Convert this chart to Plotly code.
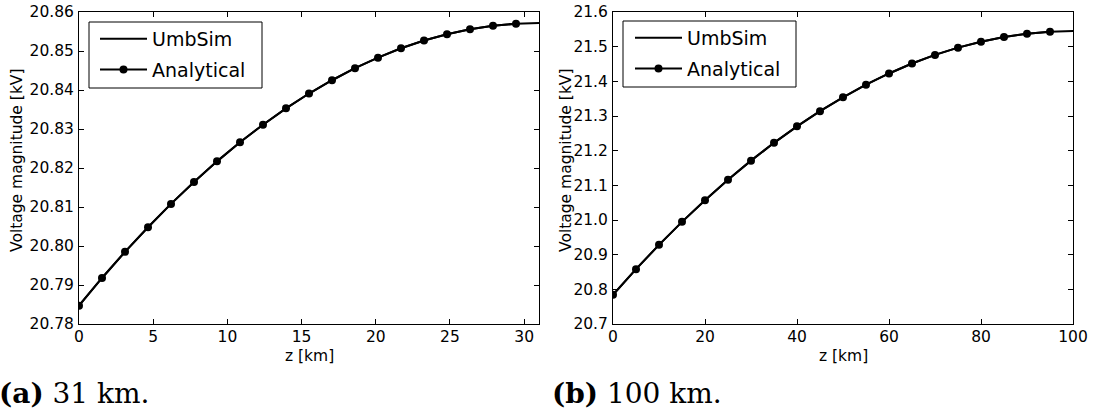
import plotly.graph_objects as go

# Voltage magnitude along the line for the 31 km case
z_31 = [0.0, 1.55, 3.1, 4.65, 6.2, 7.75, 9.3, 10.85, 12.4, 13.95, 15.5,
        17.05, 18.6, 20.15, 21.7, 23.25, 24.8, 26.35, 27.9, 29.45, 31.0]
umbsim_31 = [20.7847, 20.7918, 20.7985, 20.8048, 20.8108, 20.8164, 20.8217,
             20.8266, 20.8311, 20.8353, 20.8391, 20.8425, 20.8456, 20.8483,
             20.8507, 20.8527, 20.8543, 20.8556, 20.8565, 20.8570, 20.8572]
analytical_z_31 = z_31[:-1]
analytical_31 = umbsim_31[:-1]

# Voltage magnitude along the line for the 100 km case
z_100 = [0, 5, 10, 15, 20, 25, 30, 35, 40, 45, 50,
         55, 60, 65, 70, 75, 80, 85, 90, 95, 100]
umbsim_100 = [20.7844, 20.8582, 20.9283, 20.9946, 21.0572, 21.1161, 21.1712,
              21.2226, 21.2701, 21.3140, 21.3540, 21.3903, 21.4227, 21.4513,
              21.4762, 21.4972, 21.5144, 21.5278, 21.5374, 21.5431, 21.5450]
analytical_z_100 = z_100[:-1]
analytical_100 = umbsim_100[:-1]

xticks_31 = [0, 5, 10, 15, 20, 25, 30]
yticks_31 = [20.78, 20.79, 20.80, 20.81, 20.82, 20.83, 20.84, 20.85, 20.86]
xticks_100 = [0, 20, 40, 60, 80, 100]
yticks_100 = [20.7, 20.8, 20.9, 21.0, 21.1, 21.2, 21.3, 21.4, 21.5, 21.6]

W, H = 1097, 416
FONT = "DejaVu Sans"


def px_x(p):
    return p / W


def px_y(p):
    return 1 - p / H


fig = go.Figure()

line_style = dict(color="black", width=2)
marker_style = dict(color="black", size=8, symbol="circle")

fig.add_trace(go.Scatter(x=z_31, y=umbsim_31, mode="lines", line=line_style,
                         name="UmbSim", xaxis="x", yaxis="y", legend="legend",
                         legendgroup="a1"))
fig.add_trace(go.Scatter(x=analytical_z_31, y=analytical_31, mode="lines+markers",
                         line=line_style, marker=marker_style, name="Analytical",
                         xaxis="x", yaxis="y", legend="legend", legendgroup="a2"))
fig.add_trace(go.Scatter(x=z_100, y=umbsim_100, mode="lines", line=line_style,
                         name="UmbSim", xaxis="x2", yaxis="y2", legend="legend2",
                         legendgroup="b1"))
fig.add_trace(go.Scatter(x=analytical_z_100, y=analytical_100, mode="lines+markers",
                         line=line_style, marker=marker_style, name="Analytical",
                         xaxis="x2", yaxis="y2", legend="legend2", legendgroup="b2"))

axis_common = dict(
    showgrid=False, zeroline=False, showline=True, linecolor="black", linewidth=1,
    mirror="ticks", ticks="inside", ticklen=5, tickwidth=1, tickcolor="black",
    tickfont=dict(family=FONT, size=15.5, color="black"), automargin=False,
)

top_px, bottom_px = 12, 324
ydom = [px_y(bottom_px), px_y(top_px)]

legend_common = dict(
    xanchor="left", yanchor="top", borderwidth=0, bgcolor="rgba(0,0,0,0)",
    font=dict(family=FONT, size=19, color="black"),
    itemwidth=47, tracegroupgap=3,
)

fig.update_layout(
    width=W, height=H,
    margin=dict(l=0, r=0, t=0, b=0),
    paper_bgcolor="white", plot_bgcolor="white",
    xaxis=dict(domain=[px_x(79), px_x(539)], range=[0, 31], anchor="y",
               tickvals=xticks_31, ticklabelstandoff=-2, **axis_common),
    yaxis=dict(domain=ydom, range=[20.78, 20.86], anchor="x",
               tickvals=yticks_31, tickformat=".2f", ticklabelstandoff=1, **axis_common),
    xaxis2=dict(domain=[px_x(613), px_x(1073)], range=[0, 100], anchor="y2",
                tickvals=xticks_100, ticklabelstandoff=-2, **axis_common),
    yaxis2=dict(domain=ydom, range=[20.7, 21.6], anchor="x2",
                tickvals=yticks_100, tickformat=".1f", ticklabelstandoff=1, **axis_common),
    legend=dict(x=px_x(95), y=px_y(20), **legend_common),
    legend2=dict(x=px_x(630), y=px_y(19), **legend_common),
    showlegend=True,
)

# Legend frames
frames = [(89, 22, 262, 88), (623, 21, 796, 87)]
fig.update_layout(shapes=[
    dict(type="rect", xref="paper", yref="paper",
         x0=px_x(x0), x1=px_x(x1), y0=px_y(y1), y1=px_y(y0),
         line=dict(color="black", width=1), fillcolor="rgba(0,0,0,0)", layer="above")
    for x0, y0, x1, y1 in frames
])

title_font = dict(family=FONT, size=15.5, color="black")
caption_font = dict(family="DejaVu Serif", size=28, color="black")

common_ann = dict(showarrow=False, xref="paper", yref="paper")
annotations = [
    dict(text="z [km]", x=px_x((79 + 539) / 2), y=px_y(356),
         xanchor="center", yanchor="middle", font=title_font, **common_ann),
    dict(text="z [km]", x=px_x((613 + 1073) / 2), y=px_y(356),
         xanchor="center", yanchor="middle", font=title_font, **common_ann),
    dict(text="Voltage magnitude [kV]", x=px_x(17), y=px_y(160), textangle=-90,
         xanchor="center", yanchor="middle", font=title_font, **common_ann),
    dict(text="Voltage magnitude [kV]", x=px_x(566), y=px_y(160), textangle=-90,
         xanchor="center", yanchor="middle", font=title_font, **common_ann),
    dict(text="<b>(a)</b> 31 km.", x=px_x(-3), y=px_y(393), xanchor="left",
         yanchor="middle", font=caption_font, **common_ann),
    dict(text="<b>(b)</b> 100 km.", x=px_x(550), y=px_y(393), xanchor="left",
         yanchor="middle", font=caption_font, **common_ann),
]
fig.update_layout(annotations=annotations)

fig.write_html("out.html")
